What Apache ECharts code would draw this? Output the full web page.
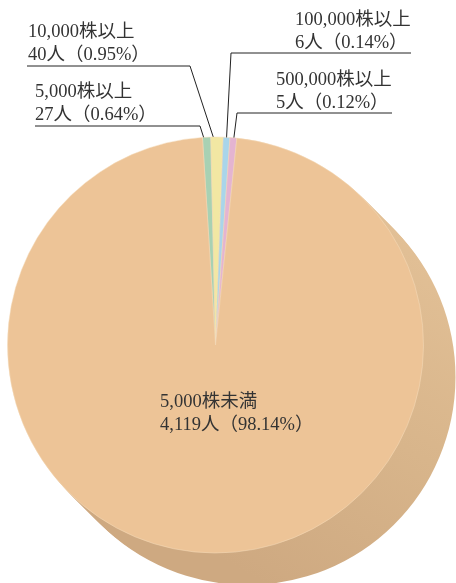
<!DOCTYPE html>
<html>
<head>
<meta charset="utf-8">
<script src="https://cdn.jsdelivr.net/npm/echarts@6/dist/echarts.min.js"></script>
<style>html,body{margin:0;padding:0;background:#fff}#c{width:456px;height:583px}</style>
</head>
<body>
<div id="c"></div>
<script>
// Data (clockwise from the top)
const categories = ["5,000株以上", "10,000株以上", "100,000株以上", "500,000株以上", "5,000株未満"];
const counts = [27, 40, 6, 5, 4119];
const percents = ["0.64", "0.95", "0.14", "0.12", "98.14"];
const colors = ["#a8d1b3", "#f2e7a3", "#a9d5ea", "#e4b4d1", "#edc497"];

// label placement (top-left of text block) and leader-line elbow/end
const labelPos = [
  {x: 35, y: 81, elbow: [200, 126], end: [35, 126]},
  {x: 28, y: 21, elbow: [190, 66], end: [27, 66]},
  {x: 295, y: 9, elbow: [231, 53], end: [411, 53]},
  {x: 276, y: 69, elbow: [237, 113], end: [392, 113]},
  {x: 160, y: 391}
];

const CX = 215.5, CY = 345, R = 208, DEPTH = 32, STEP = 2;
const FONT = '"Liberation Serif", "Noto Sans CJK JP", serif';

const seriesData = categories.map((c, i) => ({
  name: c,
  value: counts[i],
  itemStyle: {color: colors[i]},
  label: {show: true, position: i === 4 ? 'inside' : 'outside'},
  labelLine: {show: i !== 4}
}));

const series = [];
for (let k = DEPTH; k >= STEP; k -= STEP) {
  series.push({
    type: 'pie', silent: true, animation: false,
    center: [CX + k, CY + k], radius: R,
    startAngle: 93.6, minAngle: 1.9, clockwise: true,
    label: {show: false}, labelLine: {show: false},
    itemStyle: {
      color: {type: 'linear', global: true, x: 440, y: 250, x2: 250, y2: 575,
        colorStops: [{offset: 0, color: '#e2c096'}, {offset: 0.5, color: '#d8b58b'}, {offset: 1, color: '#cea981'}]},
      borderWidth: 0
    },
    data: categories.map((c, i) => ({name: c, value: counts[i]}))
  });
}
series.push({
  type: 'pie', animation: false,
  center: [CX, CY], radius: R,
  startAngle: 93.6, minAngle: 1.9, clockwise: true,
  avoidLabelOverlap: false,
  itemStyle: {borderColor: '#f4dcbd', borderWidth: 0.5},
  label: {
    formatter: p => p.name + '\n' + counts[p.dataIndex].toLocaleString('en-US') + '人（' + percents[p.dataIndex] + '%）',
    color: '#333', fontFamily: FONT, fontSize: 18.5, lineHeight: 23,
    align: 'left', verticalAlign: 'top'
  },
  labelLine: {lineStyle: {color: '#222', width: 1}, smooth: false},
  labelLayout: function (params) {
    const i = params.dataIndex;
    const lp = labelPos[i];
    const out = {x: lp.x, y: lp.y, align: 'left', verticalAlign: 'top'};
    if (lp.elbow && params.labelLinePoints) {
      const p0 = params.labelLinePoints[0];
      const dx = p0[0] - CX, dy = p0[1] - CY;
      const d = Math.sqrt(dx * dx + dy * dy);
      const inner = [CX + dx * (d - 11) / d, CY + dy * (d - 11) / d];
      out.labelLinePoints = [inner, lp.elbow, lp.end];
    }
    return out;
  },
  data: seriesData
});

const chart = echarts.init(document.getElementById('c'), null, {renderer: 'canvas'});
chart.setOption({animation: false, backgroundColor: '#fff', series: series});
</script>
</body>
</html>
